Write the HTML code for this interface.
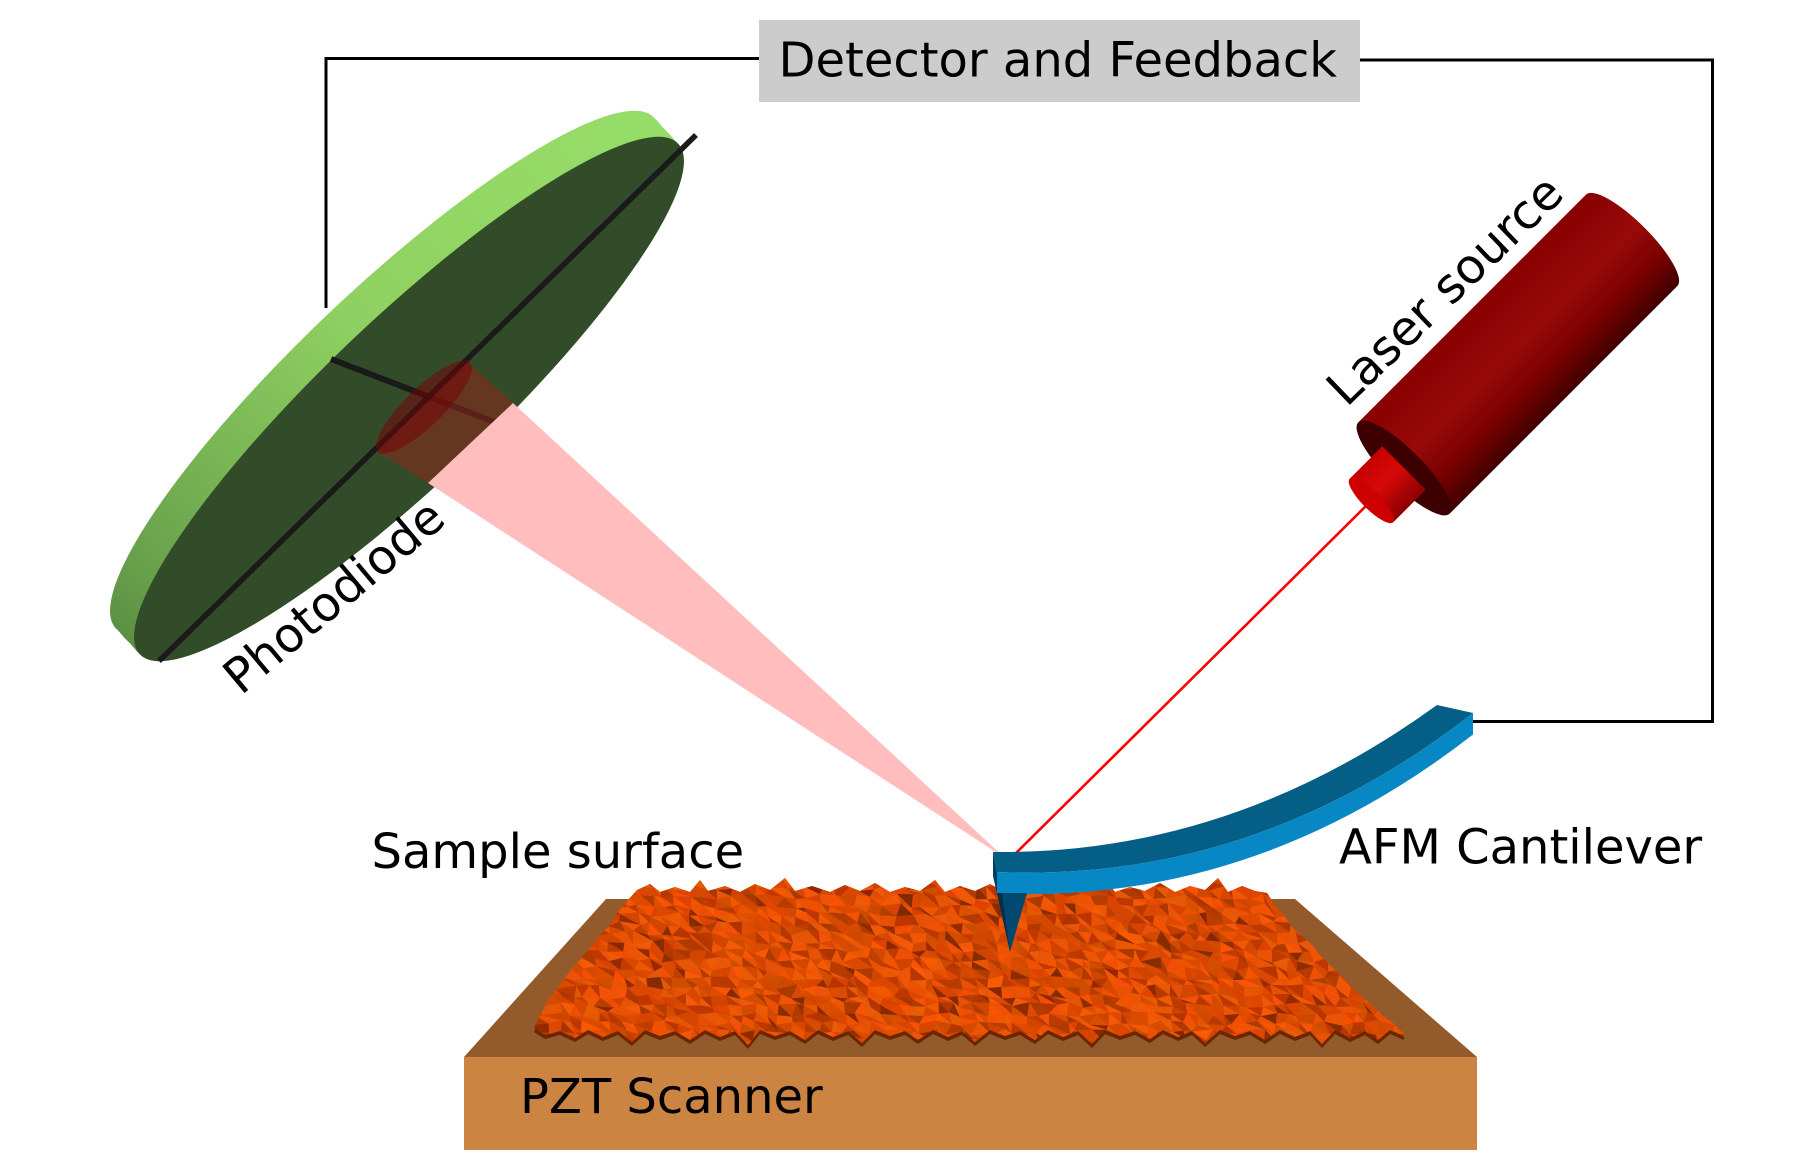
<!DOCTYPE html>
<html><head><meta charset="utf-8"><style>
html,body{margin:0;padding:0;background:#fff;}
svg{display:block;}
text{font-family:"DejaVu Sans","Liberation Sans",sans-serif;fill:#000;}
</style></head><body>
<svg id="svg" width="1817" height="1156" viewBox="0 0 1817 1156" xmlns="http://www.w3.org/2000/svg">
<defs>
<linearGradient id="gr" gradientUnits="userSpaceOnUse" x1="620" y1="110" x2="110" y2="620">
<stop offset="0" stop-color="#9ae26b"/><stop offset="0.4" stop-color="#8ed061"/><stop offset="0.75" stop-color="#68a04b"/><stop offset="1" stop-color="#467337"/>
</linearGradient>
<linearGradient id="lb" gradientUnits="userSpaceOnUse" x1="0" y1="-64.6" x2="0" y2="64.6">
<stop offset="0" stop-color="#880000"/><stop offset="0.45" stop-color="#990a0a"/><stop offset="0.75" stop-color="#7a0000"/><stop offset="1" stop-color="#3e0000"/>
</linearGradient>
<linearGradient id="nz" gradientUnits="userSpaceOnUse" x1="0" y1="-31" x2="0" y2="31">
<stop offset="0" stop-color="#c40000"/><stop offset="0.45" stop-color="#d80808"/><stop offset="1" stop-color="#8a0000"/>
</linearGradient>
<pattern id="tex" width="42" height="30" patternUnits="userSpaceOnUse">
<rect width="42" height="30" fill="#d44800"/>
<polygon points="0,0 14,0 6,10" fill="#e65300"/>
<polygon points="14,0 28,0 20,8" fill="#c03c00"/>
<polygon points="28,0 42,0 36,11" fill="#ea5808"/>
<polygon points="6,10 20,8 12,20" fill="#b83800"/>
<polygon points="20,8 36,11 27,19" fill="#e04e00"/>
<polygon points="0,12 6,10 12,20 0,24" fill="#f05a0a"/>
<polygon points="12,20 27,19 20,30" fill="#cc4200"/>
<polygon points="27,19 42,14 42,30 34,30" fill="#b53600"/>
<polygon points="0,24 12,20 8,30 0,30" fill="#c44000"/>
</pattern>
<clipPath id="sclip">
<polygon points="637,890 650,884 660,892 675,887 690,892 700,880 708,891 725,886 740,892 755,884 770,890 785,878 795,891 812,886 830,892 845,885 860,891 875,883 890,892 905,887 920,891 935,880 945,892 960,886 975,891 990,884 1005,892 1020,887 1035,891 1050,882 1062,892 1078,886 1092,890 1105,879 1115,892 1130,887 1145,891 1160,883 1175,892 1190,886 1205,890 1218,878 1228,892 1242,886 1255,891 1267,893 1275,905 1282,912 1290,925 1300,934 1312,945 1320,955 1330,965 1340,975 1350,985 1360,995 1372,1005 1382,1015 1392,1022 1404,1033 1404,1036 1390,1030 1378,1040 1365,1031 1350,1038 1335,1030 1322,1044 1310,1031 1295,1037 1280,1030 1265,1040 1250,1031 1235,1036 1220,1030 1205,1043 1192,1031 1178,1037 1163,1030 1150,1039 1135,1031 1120,1036 1105,1030 1092,1044 1078,1031 1063,1037 1048,1030 1035,1040 1020,1031 1005,1036 990,1030 975,1042 962,1031 948,1037 933,1030 918,1040 905,1031 890,1036 875,1030 862,1043 848,1031 833,1037 818,1030 805,1040 790,1031 775,1036 760,1030 748,1045 735,1031 720,1037 705,1030 690,1040 675,1031 660,1036 645,1030 632,1042 618,1031 603,1037 588,1030 575,1038 560,1031 545,1035 534,1028 540,1015 548,1000 556,990 565,978 572,968 580,960 590,948 600,935 610,925 618,912 628,900"/>
</clipPath>
</defs>

<!-- wire -->
<polyline points="326,308 326,58.5 770,58.5" fill="none" stroke="#000" stroke-width="3"/>
<polyline points="1350,60 1712.5,60 1712.5,721.5 1471,721.5" fill="none" stroke="#000" stroke-width="3"/>

<!-- gray box -->
<rect x="759" y="20" width="601" height="82" fill="#cccccc"/>
<text x="778.5" y="76.7" font-size="48">Detector and Feedback</text>

<!-- photodiode -->
<g fill="url(#gr)">
<ellipse cx="385" cy="373" rx="371" ry="82" transform="rotate(-43.5 385 373)"/>
<ellipse cx="388" cy="376" rx="371" ry="82" transform="rotate(-43.5 388 376)"/>
<ellipse cx="391" cy="379.5" rx="371" ry="82" transform="rotate(-43.5 391 379.5)"/>
<ellipse cx="394" cy="383" rx="371" ry="82" transform="rotate(-43.5 394 383)"/>
<ellipse cx="397" cy="386" rx="371" ry="82" transform="rotate(-43.5 397 386)"/>
<ellipse cx="400" cy="389" rx="371" ry="82" transform="rotate(-43.5 400 389)"/>
<ellipse cx="403" cy="392.5" rx="371" ry="82" transform="rotate(-43.5 403 392.5)"/>
<ellipse cx="406" cy="396" rx="371" ry="82" transform="rotate(-43.5 406 396)"/>
</g>
<ellipse cx="409" cy="399" rx="371" ry="82" transform="rotate(-43.5 409 399)" fill="#324c29"/>
<line x1="159" y1="661" x2="696" y2="135" stroke="#1a1a1a" stroke-width="5.5"/>
<line x1="331" y1="359" x2="497" y2="423" stroke="#1a1a1a" stroke-width="6"/>

<!-- beam -->
<polygon points="513,403 428,483 1005,858" fill="#ffbdbd"/>
<polygon points="378,452 468,362 513,403 428,483" fill="rgb(143,39,25)" fill-opacity="0.55"/>
<ellipse cx="424" cy="407" rx="64" ry="19" transform="rotate(-44 424 407)" fill="rgb(120,0,5)" fill-opacity="0.5"/>

<text x="241" y="696" font-size="48" transform="rotate(-40 241 696)">Photodiode</text>

<!-- laser line -->
<line x1="1371" y1="501" x2="1010" y2="859" stroke="#ff0000" stroke-width="2.6"/>

<!-- laser source -->
<g transform="translate(1404,468) rotate(-45)">
<path d="M0,-64.6 L322,-64.6 A18,64.6 0 0 1 322,64.6 L0,64.6 Z" fill="url(#lb)"/>
<ellipse cx="0" cy="0" rx="18" ry="64.6" fill="#3c0000"/>
<path d="M-46,-30.8 L0,-30.8 L0,30.8 L-46,30.8 Z" fill="url(#nz)"/>
<ellipse cx="-46" cy="0" rx="9" ry="30.8" fill="#cc0000"/>
</g>
<text x="1346.5" y="408" font-size="48" transform="rotate(-44 1346.5 408)">Laser source</text>

<!-- PZT base -->
<polygon points="606,899 1295,899 1477,1057 464,1057" fill="#935a2c"/>
<rect x="464" y="1057" width="1013" height="93" fill="#cc8443"/>
<text x="520" y="1113" font-size="48">PZT Scanner</text>

<!-- sample surface -->
<g transform="translate(0,4)" clip-path="url(#sclip)"><rect x="520" y="870" width="900" height="190" fill="#6b2600"/></g>
<g clip-path="url(#sclip)">
<rect x="520" y="870" width="900" height="190" fill="url(#tex)"/>
<g id="mesh"></g>
</g>

<!-- cantilever -->
<path d="M993,852 Q1230,855 1437,705 L1473,713 Q1255,883 997,872 Z" fill="#045e86"/>
<path d="M997,872 Q1255,883 1473,713 L1473,734.5 Q1255,904.5 997,893.5 Z" fill="#0788c4"/>
<path d="M993,852 L997,872 L997,893.5 L993,876 Z" fill="#023f5e"/>
<path d="M997,893 L1027,893 L1010,952 Z" fill="#03486e"/>
<path d="M997,893 L1002,893 L1010,952 Z" fill="#022f49"/>
<text x="1339" y="863.3" font-size="48">AFM Cantilever</text>
<text x="371.5" y="868" font-size="48">Sample surface</text>
</svg>
<script>
(function(){
  var s=12345;
  function r(){s=(s*1103515245+12345)&0x7fffffff;return s/0x7fffffff;}
  var g=document.getElementById('mesh');
  var ns='http://www.w3.org/2000/svg';
  var x0=520,y0=870,dx=13,dy=9,nx=72,ny=22;
  var P=[];
  for(var j=0;j<=ny;j++){P[j]=[];for(var i=0;i<=nx;i++){P[j][i]=[x0+i*dx+(r()-0.5)*9,y0+j*dy+(r()-0.5)*6];}}
  var html='';
  function col(){
    var t=r();var R,G,B;
    if(t<0.35){R=228+r()*20;G=78+r()*14;B=0+r()*10;}
    else if(t<0.75){R=205+r()*20;G=66+r()*12;B=0;}
    else if(t<0.95){R=170+r()*25;G=52+r()*10;B=0;}
    else{R=130+r()*20;G=38+r()*8;B=0;}
    return 'rgb('+Math.round(R)+','+Math.round(G)+','+Math.round(B)+')';
  }
  for(var j=0;j<ny;j++){for(var i=0;i<nx;i++){
    var a=P[j][i],b=P[j][i+1],c=P[j+1][i+1],d=P[j+1][i];
    html+='<polygon points="'+a+' '+b+' '+c+'" fill="'+col()+'"/>';
    html+='<polygon points="'+a+' '+c+' '+d+'" fill="'+col()+'"/>';
  }}
  g.innerHTML=html;
})();
</script>
</body></html>
